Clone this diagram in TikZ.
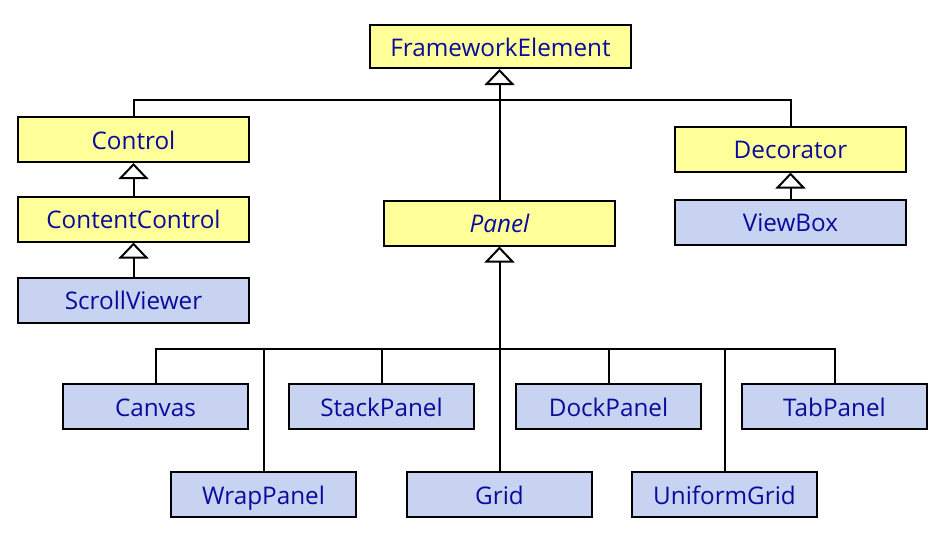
\documentclass[tikz,border=0pt]{standalone}
\usepackage{fontspec}
\setmainfont{Open Sans}
\usetikzlibrary{arrows.meta}
\definecolor{txtblue}{HTML}{0A0A9C}
\definecolor{boxyellow}{HTML}{FFFF99}
\definecolor{boxblue}{HTML}{C7D3F1}
\tikzset{
  px/.style={x=0.75pt,y=-0.75pt},
  cls/.style={draw=black,line width=1.5pt,minimum height=33.75pt,inner sep=0pt,
    text=txtblue,font=\fontsize{18.2}{21}\selectfont,text height=18.5pt,text depth=4pt},
  wide/.style={cls,minimum width=173.25pt},
  narrow/.style={cls,minimum width=138.75pt},
  abst/.style={fill=boxyellow},
  conc/.style={fill=boxblue},
  link/.style={draw=black,line width=1.5pt,line join=miter},
  inh/.style={link,-{Triangle[open,width=22.5pt,length=12pt,line width=1.5pt]}},
}
\begin{document}
\begin{tikzpicture}[px]
\useasboundingbox (0,0) rectangle (946,537);
\node[cls,abst,minimum width=195.75pt,minimum height=32.25pt] (fe) at (500.5,46.5) {FrameworkElement};
\node[wide,abst] (control) at (133.5,139.5) {Control};
\node[wide,abst] (cc) at (133.5,219) {ContentControl};
\node[wide,conc] (sv) at (133.5,300) {ScrollViewer};
\node[wide,abst] (panel) at (499.5,223) {\itshape Panel};
\node[wide,abst] (deco) at (790.5,149) {Decorator};
\node[wide,conc] (vb) at (790.5,222) {ViewBox};
\node[narrow,conc] (canvas) at (155.5,406.5) {Canvas};
\node[narrow,conc] (stack) at (381.5,406.5) {StackPanel};
\node[narrow,conc] (dock) at (608.5,406.5) {DockPanel};
\node[narrow,conc] (tab) at (834.5,406.5) {TabPanel};
\node[narrow,conc] (wrap) at (263.5,494.5) {WrapPanel};
\node[narrow,conc] (grid) at (499.5,494.5) {Grid};
\node[narrow,conc] (ugrid) at (724.5,494.5) {UniformGrid};
\coordinate (topbus) at (499.5,100);
\coordinate (botbus) at (499.5,349);
% top level
\draw[inh] (panel.north) -- (panel.north |- fe.south);
\draw[link] (control.north) |- (topbus) -| (deco.north);
% left chain
\draw[inh] (cc.north) -- (control.south);
\draw[inh] (sv.north) -- (cc.south);
% right chain
\draw[inh] (vb.north) -- (deco.south);
% panel children
\draw[inh] (botbus) -- (panel.south);
\draw[link] (canvas.north) |- (botbus);
\draw[link] (wrap.north) |- (botbus);
\draw[link] (stack.north) |- (botbus);
\draw[link] (grid.north) -- (botbus);
\draw[link] (dock.north) |- (botbus);
\draw[link] (ugrid.north) |- (botbus);
\draw[link] (tab.north) |- (botbus);
\end{tikzpicture}
\end{document}
